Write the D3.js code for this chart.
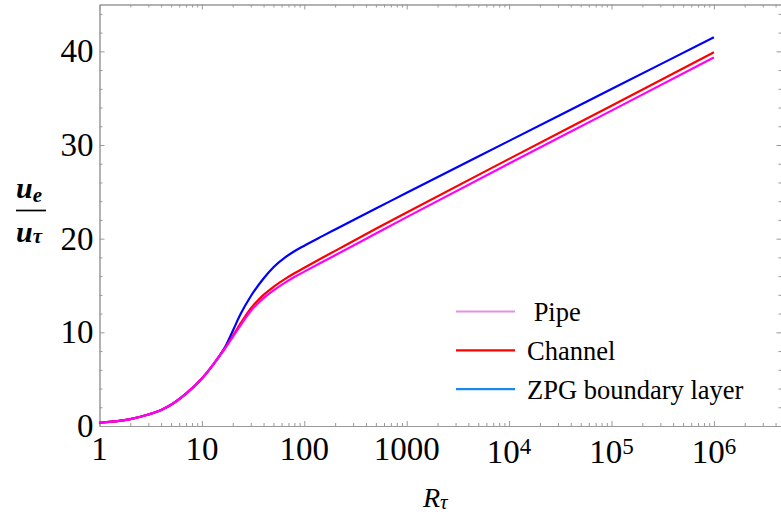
<!DOCTYPE html>
<html>
<head>
<meta charset="utf-8">
<script src="https://cdn.jsdelivr.net/npm/d3@7"></script>
<style>
body { margin: 0; background: #fff; }
svg { display: block; }
text { font-family: "Liberation Serif", "Times New Roman", serif; }
</style>
</head>
<body>
<svg id="chart" width="781" height="519"></svg>
<script>
// values
var rtau    = [1, 2, 3, 4, 5, 7, 10, 13, 15, 17, 20, 24, 30, 40, 50, 65, 80, 100, 150, 200, 500, 1000, 1e4, 1e5, 1e6];
var pipe    = [0.35, 0.74, 1.23, 1.72, 2.27, 3.45, 5.07, 6.61, 7.54, 8.35, 9.49, 10.8, 12.27, 13.65, 14.47, 15.3, 15.9, 16.48, 17.51, 18.23, 20.55, 22.3, 28.02, 33.67, 39.35];
var channel = [0.35, 0.74, 1.23, 1.72, 2.27, 3.45, 5.07, 6.61, 7.54, 8.4, 9.61, 11.0, 12.55, 14.0, 14.85, 15.7, 16.3, 16.9, 17.96, 18.7, 21.05, 22.8, 28.52, 34.2, 39.9];
var zpg     = [0.35, 0.74, 1.23, 1.72, 2.27, 3.45, 5.07, 6.61, 7.56, 8.5, 10.15, 12.0, 13.85, 15.75, 16.95, 18.0, 18.65, 19.25, 20.27, 20.98, 23.21, 24.91, 30.44, 35.97, 41.5];

var yTicks = [0, 10, 20, 30, 40];
var xTicks = [1, 10, 100, 1000, 1e4, 1e5, 1e6];
var xTickLabels = [["1"], ["10"], ["100"], ["1000"], ["10", "4"], ["10", "5"], ["10", "6"]];

var legendNames = [" Pipe", "Channel", "ZPG boundary layer"];
var legendColors = ["#e890e0", "#ff0000", "#1a88ee"];

var svg = d3.select("#chart");
var plotLeft = 99.5, plotRight = 781.5, plotTop = 4.5, plotBottom = 426;

var x = d3.scaleLog().domain([1, Math.pow(10, 6.66)]).range([plotLeft, plotRight]);
var y = d3.scaleLinear().domain([0, 45]).range([plotBottom, plotTop]);

// minor ticks
var xMinor = [];
for (var d = 0; d <= 6; d++) {
    for (var k = 2; k <= 9; k++) {
        if (k * Math.pow(10, d) < x.domain()[1]) xMinor.push(k * Math.pow(10, d));
    }
}
var yMinor = d3.range(0, 46, 2).filter(function(v) { return v % 10 != 0; });

function styleAxis(g) {
    g.selectAll(".domain").attr("stroke", "#999");
    g.selectAll(".tick line").attr("stroke", "#999");
}

// bottom
svg.append("g").attr("transform", "translate(0," + plotBottom + ")")
    .call(d3.axisBottom(x).tickValues(xMinor).tickSize(-3).tickSizeOuter(0).tickFormat(""))
    .call(styleAxis);
svg.append("g").attr("transform", "translate(0," + plotBottom + ")")
    .call(d3.axisBottom(x).tickValues(xTicks).tickSize(-5).tickSizeOuter(0).tickFormat(""))
    .call(styleAxis);
// top
svg.append("g").attr("transform", "translate(0," + plotTop + ")")
    .call(d3.axisTop(x).tickValues(xMinor).tickSize(-3).tickSizeOuter(0).tickFormat(""))
    .call(styleAxis);
svg.append("g").attr("transform", "translate(0," + plotTop + ")")
    .call(d3.axisTop(x).tickValues(xTicks).tickSize(-5).tickSizeOuter(0).tickFormat(""))
    .call(styleAxis);
// left
svg.append("g").attr("transform", "translate(" + plotLeft + ",0)")
    .call(d3.axisLeft(y).tickValues(yMinor).tickSize(-3).tickSizeOuter(0).tickFormat(""))
    .call(styleAxis);
var yAxis = svg.append("g").attr("transform", "translate(" + plotLeft + ",0)")
    .call(d3.axisLeft(y).tickValues(yTicks).tickSize(-5).tickSizeOuter(0).tickPadding(6))
    .call(styleAxis);
yAxis.selectAll("text").attr("font-size", 33).attr("fill", "#000")
    .style("font-family", "'Liberation Serif', serif");
// right
svg.append("g").attr("transform", "translate(" + plotRight + ",0)")
    .call(d3.axisLeft(y).tickValues(yMinor).tickSize(3).tickSizeOuter(0).tickFormat(""))
    .call(styleAxis);
svg.append("g").attr("transform", "translate(" + plotRight + ",0)")
    .call(d3.axisLeft(y).tickValues(yTicks).tickSize(5).tickSizeOuter(0).tickFormat(""))
    .call(styleAxis);

// x tick labels (with powers of ten)
var xl = svg.append("g").selectAll("text")
    .data(xTicks)
    .enter().append("text")
    .attr("x", function(d) { return x(d); })
    .attr("y", function(d, i) { return xTickLabels[i].length > 1 ? 463 : 460; })
    .attr("text-anchor", "middle")
    .attr("font-size", 33);
xl.append("tspan").text(function(d, i) { return xTickLabels[i][0]; });
xl.filter(function(d, i) { return xTickLabels[i].length > 1; })
    .append("tspan")
    .attr("font-size", 23)
    .attr("dy", -9)
    .text(function(d) { return xTickLabels[xTicks.indexOf(d)][1]; });

// curves
var line = d3.line()
    .x(function(d) { return x(d[0]); })
    .y(function(d) { return y(d[1]); })
    .curve(d3.curveMonotoneX);

var series = [
    { values: zpg, color: "#0000ff" },
    { values: channel, color: "#ff0000" },
    { values: pipe, color: "#ff00ff" }
];
svg.append("g").selectAll("path")
    .data(series)
    .enter().append("path")
    .attr("d", function(s) { return line(rtau.map(function(r, i) { return [r, s.values[i]]; })); })
    .attr("fill", "none")
    .attr("stroke", function(s) { return s.color; })
    .attr("stroke-width", 2.2);

// legend
var leg = svg.append("g").selectAll("g")
    .data(legendNames)
    .enter().append("g")
    .attr("transform", function(d, i) { return "translate(456," + (311.5 + i * 38.8) + ")"; });
leg.append("line")
    .attr("x1", 0).attr("x2", 59)
    .attr("stroke", function(d, i) { return legendColors[i]; })
    .attr("stroke-width", 2.2);
leg.append("text")
    .attr("x", 71).attr("y", 9.5)
    .attr("font-size", 26.5)
    .style("white-space", "pre")
    .text(function(d) { return d; });

// axis titles
var xt = svg.append("text").attr("x", 423).attr("y", 507)
    .attr("font-size", 28).attr("font-style", "italic");
xt.append("tspan").text("R");
xt.append("tspan").attr("font-size", 21).attr("dy", 2).text("τ");

var num = svg.append("text").attr("x", 16).attr("y", 198)
    .attr("font-size", 30).attr("font-style", "italic").attr("font-weight", "bold");
num.append("tspan").text("u");
num.append("tspan").attr("font-size", 21).attr("dy", 4).text("e");
svg.append("line").attr("x1", 16).attr("x2", 46).attr("y1", 210.5).attr("y2", 210.5)
    .attr("stroke", "#000").attr("stroke-width", 1.7);
var den = svg.append("text").attr("x", 16).attr("y", 242)
    .attr("font-size", 30).attr("font-style", "italic").attr("font-weight", "bold");
den.append("tspan").text("u");
den.append("tspan").attr("font-size", 21).attr("dy", 1).text("τ");
</script>
</body>
</html>
